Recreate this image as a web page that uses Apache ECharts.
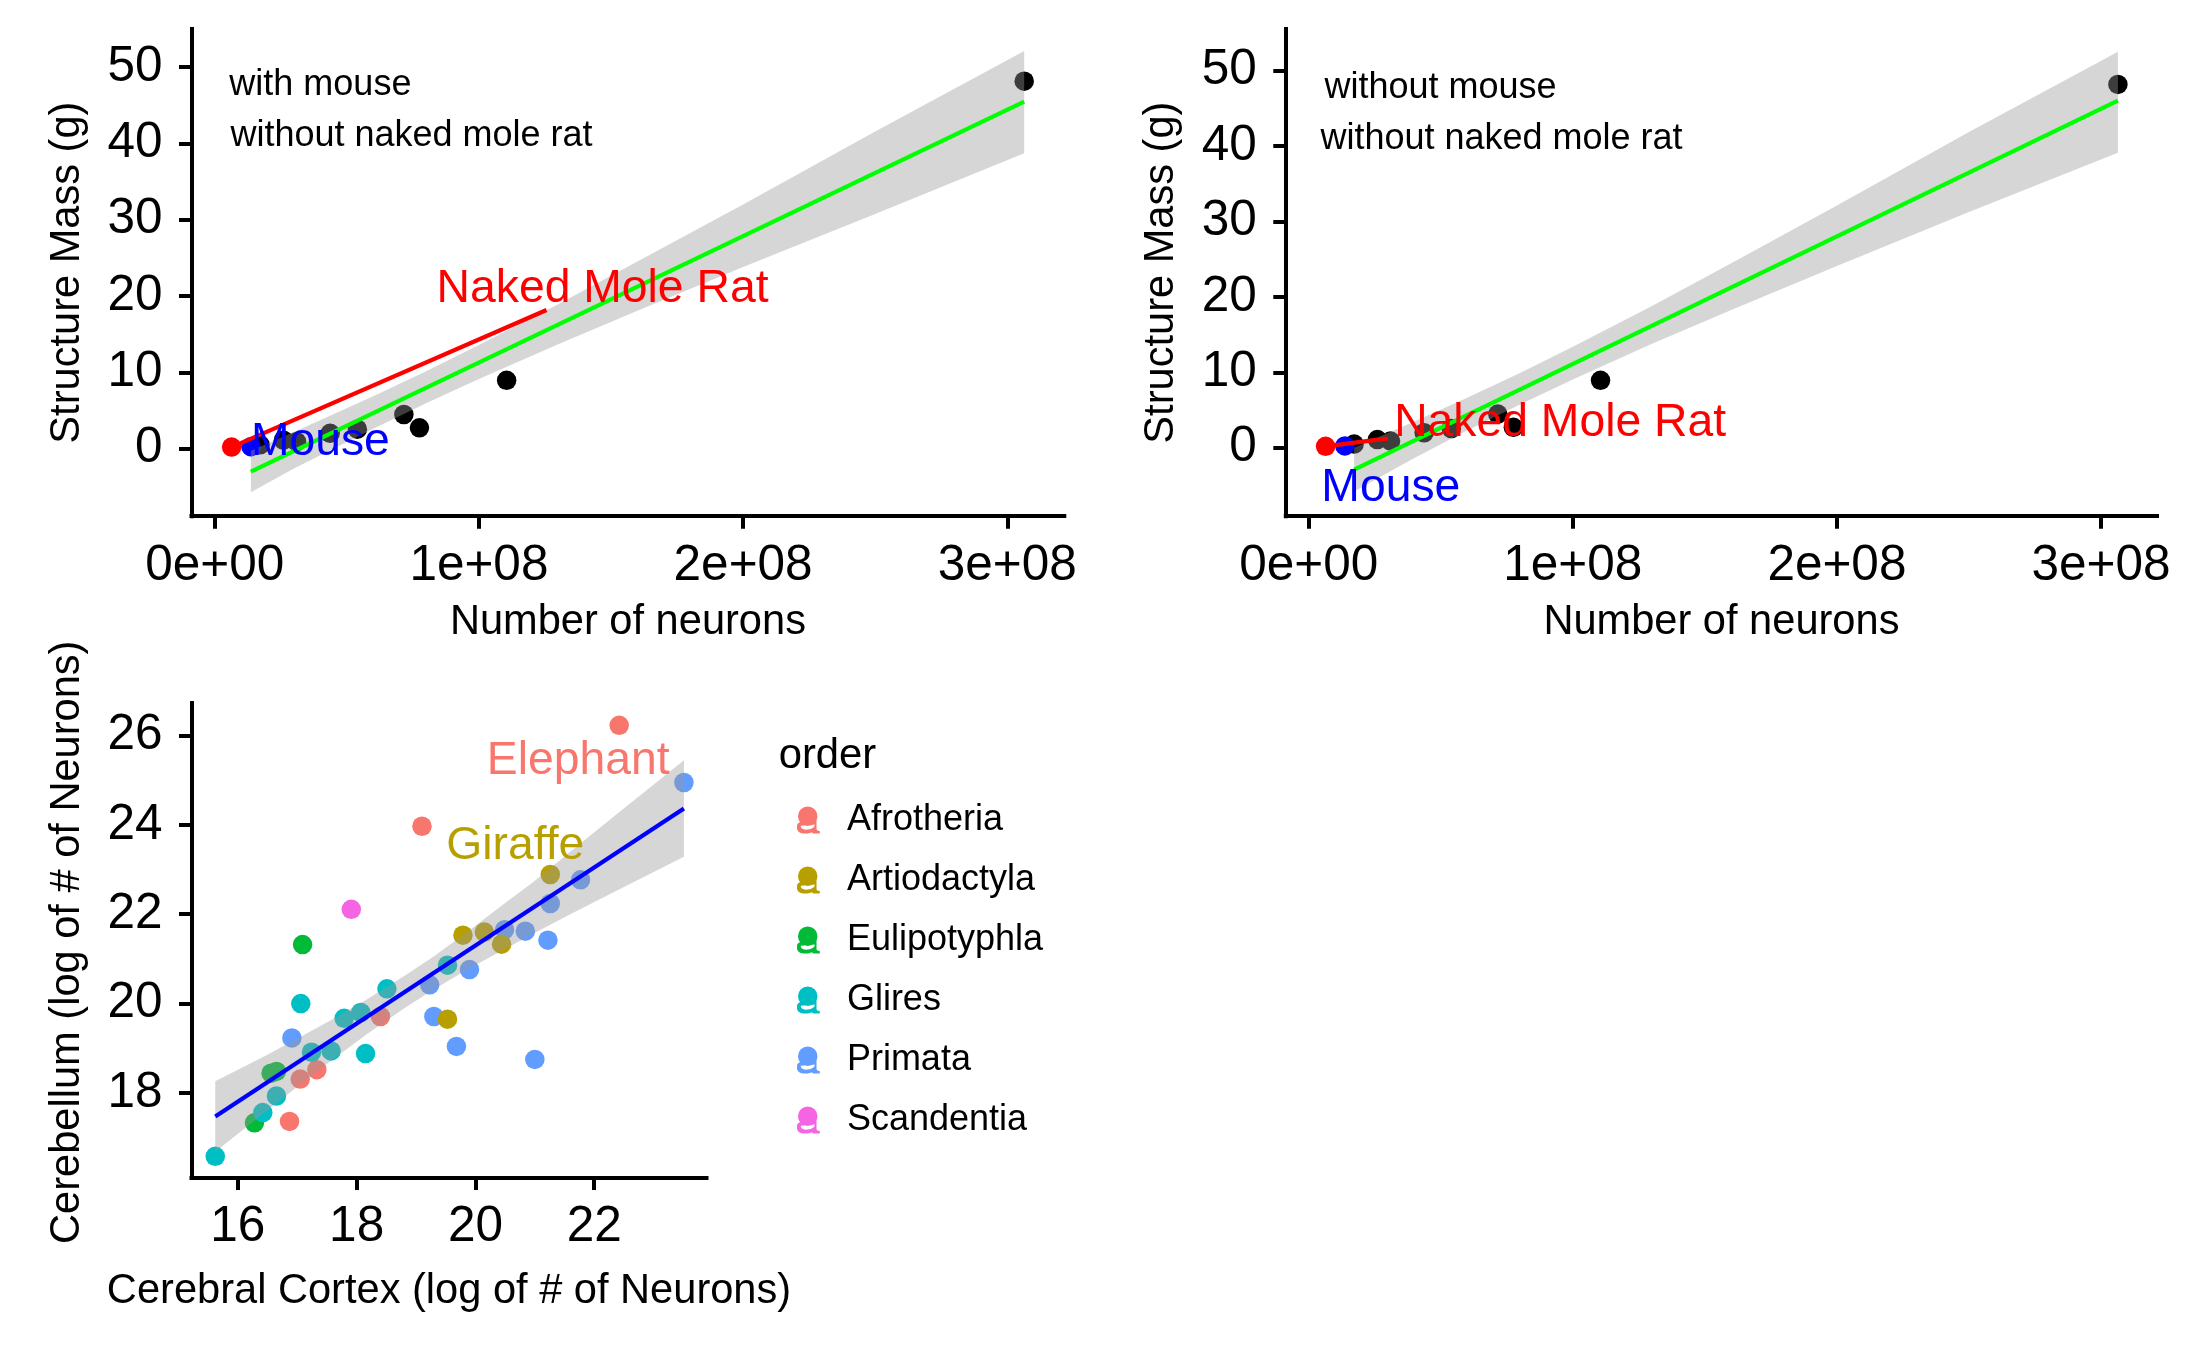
<!DOCTYPE html>
<html><head><meta charset="utf-8">
<style>html,body{margin:0;padding:0;background:#fff}#c{width:2187px;height:1350px}</style>
<script src="https://cdn.jsdelivr.net/npm/echarts@6/dist/echarts.min.js"></script>
</head><body><div id="c"></div>
<script>
// ---------- data: neurons vs structure mass ----------
const neuronsX = [0.172e8,0.26e8,0.31e8,0.437e8,0.54e8,0.716e8,0.775e8,1.105e8,3.064e8];
const massY    = [0.5,1.1,0.9,2.0,2.55,4.47,2.72,8.95,48.15];
const nmrPoint = [0.064e8,0.2];
const mousePoint = [0.137e8,0.25];
const nmrEndA = [1.256e8,18.17];
const nmrEndB = [0.30e8,1.26];
const fitA = [[0.137e8,-3.02],[3.064e8,45.48]];
const fitB = [[0.172e8,-2.9],[3.064e8,46.0]];
const bandAx = [0.137e8,0.3e8,0.6e8,0.8e8,1.0e8,1.3e8,1.6e8,2.0e8,2.5e8,3.064e8];
const bandAlo = [-5.72,-2.61,2.61,5.95,9.12,13.69,18.05,23.79,30.75,38.7];
const bandAhi = [-0.27,2.17,6.87,10.15,13.58,18.93,24.51,31.99,41.57,52.1];
const bandBx = [0.172e8,0.4e8,0.6e8,0.8e8,1.0e8,1.3e8,1.6e8,2.0e8,2.5e8,3.064e8];
const bandBlo = [-5.8,-1.34,2.28,5.73,9.04,13.78,18.25,24.11,31.26,39.1];
const bandBhi = [0.0,3.48,6.62,9.93,13.38,18.78,24.45,32.11,41.86,52.5];
const xTicks = [0,1e8,2e8,3e8];
const xTickLabels = ['0e+00','1e+08','2e+08','3e+08'];
const massTicks = [0,10,20,30,40,50];

// ---------- data: cortex vs cerebellum, by order ----------
const afrotheria   = [[22.42,26.23],[19.10,23.97],[18.40,19.71],[17.33,18.52],[17.05,18.31],[16.87,17.36]];
const artiodactyla = [[21.26,22.89],[19.79,21.53],[20.15,21.60],[20.44,21.33],[19.53,19.65]];
const eulipotyphla = [[17.09,21.32],[16.65,18.48],[16.56,18.44],[16.28,17.33]];
const glires = [[17.06,20.0],[18.51,20.33],[19.53,20.86],[18.07,19.80],[17.79,19.67],[17.24,18.91],[17.57,18.94],[18.15,18.88],[16.65,17.93],[16.42,17.56],[15.62,16.58]];
const primata = [[23.51,24.95],[21.77,22.77],[21.26,22.24],[21.22,21.42],[20.84,21.62],[20.49,21.65],[19.90,20.76],[19.23,20.42],[19.30,19.71],[19.68,19.04],[21.0,18.75],[16.91,19.23]];
const scandentia = [[17.91,22.11]];
const fitC = [[15.62,17.47],[23.51,24.37]];
const bandCx = [15.62,16.49,17.05,17.61,18.17,18.84,19.29,19.85,20.41,20.98,21.54,22.10,23.51];
const bandClo = [16.68,17.60,18.19,18.76,19.31,19.93,20.31,20.75,21.16,21.57,21.96,22.34,23.29];
const bandChi = [18.26,18.85,19.25,19.66,20.09,20.65,21.05,21.59,22.16,22.73,23.34,23.94,25.45];
const cortexTicks = [16,18,20,22];
const cerebellumTicks = [18,20,22,24,26];
const orderNames = ['Afrotheria','Artiodactyla','Eulipotyphla','Glires','Primata','Scandentia'];
const orderColors = {Afrotheria:'#F8766D',Artiodactyla:'#B79F00',Eulipotyphla:'#00BA38',Glires:'#00BFC4',Primata:'#619CFF',Scandentia:'#F564E3'};

// ---------- annotations: [x, y, text, colour, size] ----------
const notesA = [[0.40e8,48.05,'with mouse','#000',36],[0.745e8,41.4,'without naked mole rat','#000',36],[1.468e8,21.3,'Naked Mole Rat','#f00',46.3],[0.40e8,1.2,'Mouse','#00f',46.3]];
const notesB = [[0.499e8,48.08,'without mouse','#000',36],[0.73e8,41.36,'without naked mole rat','#000',36],[0.952e8,3.68,'Naked Mole Rat','#f00',46.3],[0.311e8,-4.93,'Mouse','#00f',46.3]];
const notesC = [[21.73,25.49,'Elephant','#F8766D',46.3],[20.67,23.6,'Giraffe','#B79F00',46.3]];

const FONT = '"Liberation Sans", Arial, sans-serif';
const keyPath = 'path://M3 29A30 30 0 0 1 63 29A30 30 0 0 1 3 29Z'+
  'M0 58C0 48 14 44 24 44L54 44L60 30L60 68Q60 74 70 74L70 82L52 82Q48 82 46 78C38 82 26 82 20 82C8 82 0 74 0 66Z'+
  'M12 58L12 62Q16 71 32 70Q48 69 54 60L54 54Z';

function axisBase(isY, ticks, labels, name, gap, namePad){
  const fmt = v => labels ? labels[ticks.indexOf(v)] : String(v);
  return {
    type:'value', name:name, nameLocation:'middle', nameGap:gap,
    nameTextStyle:{fontFamily:FONT,fontSize:41.6,color:'#000',padding:namePad||0},
    axisLine:{show:true,onZero:false,lineStyle:{color:'#000',width:4,cap:'square'}},
    axisTick:{show:true,length:12.5,customValues:ticks,lineStyle:{color:'#000',width:4}},
    axisLabel:{show:true,margin:isY?29:25,padding:isY?[6,0,0,0]:0,fontFamily:FONT,fontSize:49.5,color:'#000',customValues:ticks,formatter:fmt},
    splitLine:{show:false}
  };
}
function band(ax, xs, lo, hi){
  return {type:'custom',xAxisIndex:ax,yAxisIndex:ax,z:2,silent:true,
    data:xs.map((x,i)=>[x,lo[i],hi[i]]),encode:{x:0,y:[1,2]},
    renderItem:(p,api)=>{
      if(p.dataIndex!==0) return null;
      const pts=[];
      xs.forEach((x,i)=>pts.push(api.coord([x,hi[i]])));
      for(let i=xs.length-1;i>=0;i--) pts.push(api.coord([xs[i],lo[i]]));
      return {type:'polygon',shape:{points:pts},style:{fill:'rgba(153,153,153,0.4)'}};
    }};
}
function fitLine(ax, data, color, z){
  return {type:'line',xAxisIndex:ax,yAxisIndex:ax,z:z||3,data:data,symbol:'none',silent:true,
    lineStyle:{color:color,width:4.2,cap:'butt'}};
}
function dots(ax, data, color, name){
  const s={type:'scatter',xAxisIndex:ax,yAxisIndex:ax,z:1,data:data,symbolSize:19.5,silent:true,
    itemStyle:{color:color,opacity:1}};
  if(name) s.name=name;
  return s;
}
function notes(ax, list){
  return {type:'scatter',xAxisIndex:ax,yAxisIndex:ax,z:6,silent:true,symbolSize:1,
    itemStyle:{color:'transparent',opacity:1},
    data:list.map(n=>({value:[n[0],n[1]],
      label:{show:true,position:'inside',align:'center',verticalAlign:'middle',offset:[0,3],formatter:n[2],
        color:n[3],fontSize:n[4],fontFamily:FONT,opacity:1}}))};
}

const chart = echarts.init(document.getElementById('c'),null,{renderer:'canvas',width:2187,height:1350});
chart.setOption({
  animation:false,backgroundColor:'#fff',
  grid:[
    {left:191.5,top:29,width:872.8,height:487.2},
    {left:1285.8,top:29,width:871.2,height:487.2},
    {left:191.5,top:703,width:515,height:474.5}
  ],
  xAxis:[
    Object.assign(axisBase(false,xTicks,xTickLabels,'Number of neurons',85),{gridIndex:0,min:-0.0878e8,max:3.2158e8}),
    Object.assign(axisBase(false,xTicks,xTickLabels,'Number of neurons',85),{gridIndex:1,min:-0.0867e8,max:3.212e8}),
    Object.assign(axisBase(false,cortexTicks,null,'Cerebral Cortex (log of # of Neurons)',93),{gridIndex:2,min:15.22,max:23.89})
  ],
  yAxis:[
    Object.assign(axisBase(true,massTicks,null,'Structure Mass (g)',103),{gridIndex:0,min:-8.86,max:54.99}),
    Object.assign(axisBase(true,massTicks,null,'Structure Mass (g)',103),{gridIndex:1,min:-9.06,max:55.5}),
    Object.assign(axisBase(true,cerebellumTicks,null,'Cerebellum (log of # of Neurons)',103,[0,4,0,0]),{gridIndex:2,min:16.105,max:26.73})
  ],
  title:{text:'order',left:778.7,top:735,padding:0,textStyle:{fontFamily:FONT,fontSize:41.8,fontWeight:'normal',color:'#000'}},
  legend:{
    data:orderNames,orient:'vertical',left:797,top:802,padding:0,
    icon:keyPath,itemWidth:23,itemHeight:27,itemGap:24,selectedMode:false,
    textStyle:{fontFamily:FONT,fontSize:36,color:'#000',padding:[0,0,0,22]}
  },
  series:[
    dots(0,neuronsX.map((x,i)=>[x,massY[i]]),'#000'),
    dots(0,[mousePoint],'#00f'),
    dots(0,[nmrPoint],'#f00'),
    band(0,bandAx,bandAlo,bandAhi),
    fitLine(0,fitA,'#0f0'),
    fitLine(0,[nmrPoint,nmrEndA],'#f00',4),
    notes(0,notesA),

    dots(1,neuronsX.map((x,i)=>[x,massY[i]]),'#000'),
    dots(1,[mousePoint],'#00f'),
    dots(1,[nmrPoint],'#f00'),
    band(1,bandBx,bandBlo,bandBhi),
    fitLine(1,fitB,'#0f0'),
    fitLine(1,[nmrPoint,nmrEndB],'#f00',4),
    notes(1,notesB),

    dots(2,afrotheria,orderColors.Afrotheria,'Afrotheria'),
    dots(2,eulipotyphla,orderColors.Eulipotyphla,'Eulipotyphla'),
    dots(2,glires,orderColors.Glires,'Glires'),
    dots(2,primata,orderColors.Primata,'Primata'),
    dots(2,artiodactyla,orderColors.Artiodactyla,'Artiodactyla'),
    dots(2,scandentia,orderColors.Scandentia,'Scandentia'),
    band(2,bandCx,bandClo,bandChi),
    fitLine(2,fitC,'#00f'),
    notes(2,notesC)
  ]
});
</script></body></html>
